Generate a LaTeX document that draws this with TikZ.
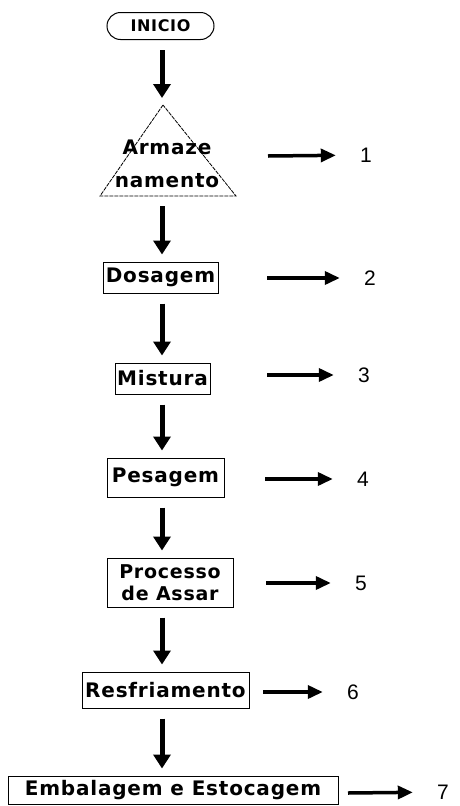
\documentclass[tikz,border=0pt]{standalone}
\usepackage{fontspec}
\newfontfamily\caixafont{DejaVu Sans}[LetterSpace=4]
\newfontfamily\numfont{Liberation Sans}
\usetikzlibrary{arrows.meta,shapes.misc}

\begin{document}
\begin{tikzpicture}[x=1pt,y=-1pt,
  caixa/.style={draw,line width=1pt,inner sep=0pt,align=center,
    font=\caixafont\bfseries\fontsize{20}{24}\selectfont},
  seta/.style={line width=5pt,-{Triangle[length=14pt,width=17pt]},
    shorten <=10pt,shorten >=7pt},
  saida/.style={line width=3.5pt,-{Triangle[length=15pt,width=13pt]},
    shorten >=24pt},
  num/.style={inner sep=0pt,minimum width=12pt,
    font=\numfont\fontsize{21}{25}\selectfont}]
   \useasboundingbox (0,0) rectangle (459,806);
   \coordinate (eixo) at (162,0);
   % etapas do processo
   \node[caixa,rounded rectangle,minimum width=107pt,minimum height=27pt,
     font=\caixafont\bfseries\fontsize{16}{19}\selectfont] (ini) at (160.5,26) {INICIO};
   \coordinate (topo) at (163,105);
   \coordinate (tesq) at (100,196);
   \coordinate (tdir) at (236,196);
   \coordinate (base) at (163,196);
   \draw[line width=0.8pt,dash pattern=on 4pt off 1pt] (topo) -- (tesq) -- (tdir) -- cycle;
   \node[caixa,draw=none,font=\caixafont\bfseries\fontsize{20}{33}\selectfont] (arm) at (167,164) {Armaze\\namento};
   \node[caixa,minimum width=115pt,minimum height=31pt] (dos) at (160.5,277.5) {Dosagem};
   \node[caixa,minimum width=95pt,minimum height=31pt] (mis) at (162.5,378.5) {Mistura};
   \node[caixa,minimum width=117pt,minimum height=39pt] (pes) at (165.5,477.5) {Pesagem};
   \node[caixa,minimum width=126pt,minimum height=49pt,
     font=\caixafont\bfseries\fontsize{19}{22}\selectfont] (pro) at (170,582.5) {Processo\\de Assar};
   \node[caixa,minimum width=167pt,minimum height=36pt] (res) at (165.5,690) {Resfriamento};
   \node[caixa,minimum width=330pt,minimum height=28pt] (emb) at (173,790) {Embalagem e Estocagem};
   % fluxo
   \draw[seta] (ini.south -| eixo) -- (topo -| eixo);
   \draw[seta] (base -| eixo) -- (dos.north -| eixo);
   \draw[seta] (dos.south -| eixo) -- (mis.north -| eixo);
   \draw[seta] (mis.south -| eixo) -- (pes.north -| eixo);
   \draw[seta] (pes.south -| eixo) -- (pro.north -| eixo);
   \draw[seta] (pro.south -| eixo) -- (res.north -| eixo);
   \draw[seta] (res.south -| eixo) -- (emb.north -| eixo);
   % saidas numeradas
   \coordinate (s1) at (268,156);   \node[num] (n1) at (366,155) {1};
   \coordinate (s2) at (267,278);   \node[num] (n2) at (370,278) {2};
   \coordinate (s3) at (267,375);   \node[num] (n3) at (364,375) {3};
   \coordinate (s4) at (265,479);   \node[num] (n4) at (363,479) {4};
   \coordinate (s5) at (266,583);   \node[num] (n5) at (361,583) {5};
   \coordinate (s6) at (263,692);   \node[num] (n6) at (353,692) {6};
   \coordinate (s7) at (348,793);   \node[num] (n7) at (443,792) {7};
   \foreach \i in {1,...,7}
     \draw[saida] (s\i) -- (n\i);
\end{tikzpicture}
\end{document}
